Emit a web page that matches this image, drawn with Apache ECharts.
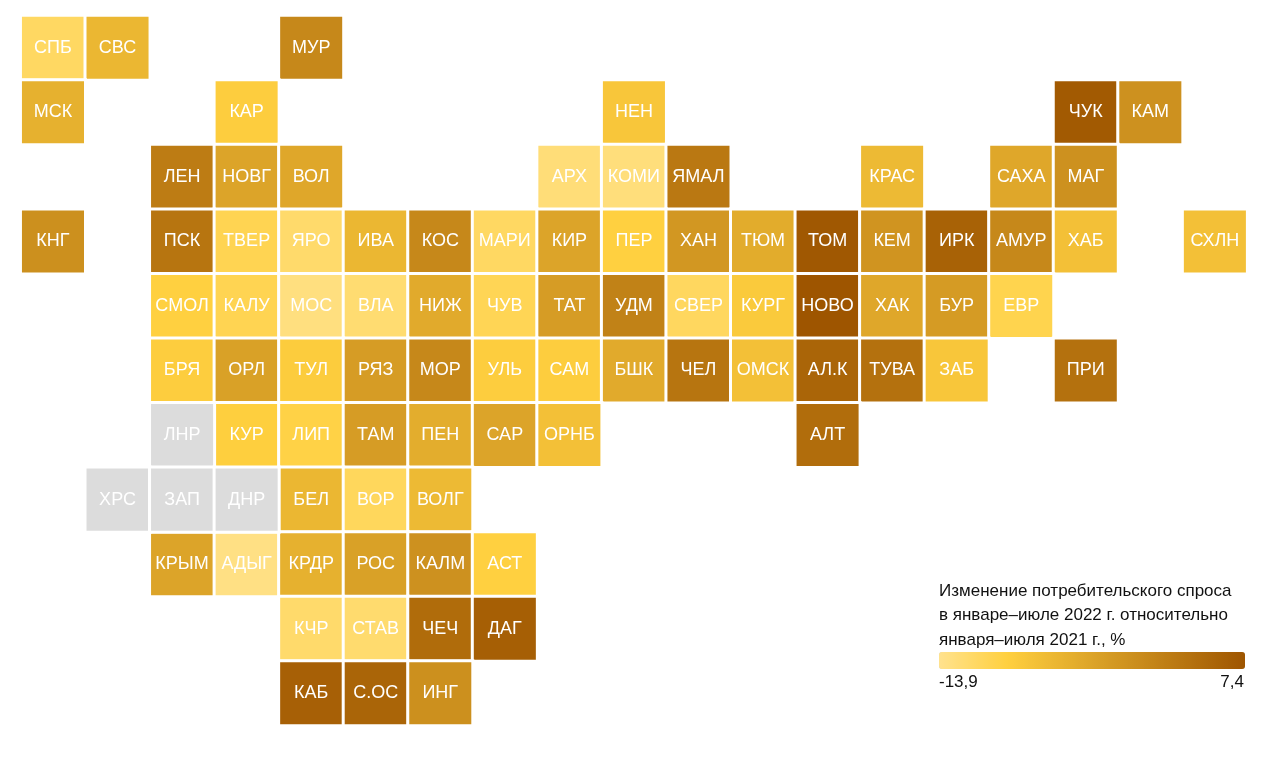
<!DOCTYPE html>
<html>
<head>
<meta charset="utf-8">
<style>html,body{margin:0;padding:0;background:#fff}#c{width:1280px;height:757px}</style>
<script src="https://cdn.jsdelivr.net/npm/echarts@6/dist/echarts.min.js"></script>
</head>
<body>
<div id="c"></div>
<script>
const regions = ["СПБ","СВС","МУР",
 "МСК","КАР","НЕН","ЧУК","КАМ",
 "ЛЕН","НОВГ","ВОЛ","АРХ","КОМИ","ЯМАЛ","КРАС","САХА","МАГ",
 "КНГ","ПСК","ТВЕР","ЯРО","ИВА","КОС","МАРИ","КИР","ПЕР","ХАН","ТЮМ","ТОМ","КЕМ","ИРК","АМУР","ХАБ","СХЛН",
 "СМОЛ","КАЛУ","МОС","ВЛА","НИЖ","ЧУВ","ТАТ","УДМ","СВЕР","КУРГ","НОВО","ХАК","БУР","ЕВР",
 "БРЯ","ОРЛ","ТУЛ","РЯЗ","МОР","УЛЬ","САМ","БШК","ЧЕЛ","ОМСК","АЛ.К","ТУВА","ЗАБ","ПРИ",
 "ЛНР","КУР","ЛИП","ТАМ","ПЕН","САР","ОРНБ","АЛТ",
 "ХРС","ЗАП","ДНР","БЕЛ","ВОР","ВОЛГ",
 "КРЫМ","АДЫГ","КРДР","РОС","КАЛМ","АСТ",
 "КЧР","СТАВ","ЧЕЧ","ДАГ",
 "КАБ","С.ОС","ИНГ"];
const cols = [0,1,4,
 0,3,9,16,17,
 2,3,4,8,9,10,13,15,16,
 0,2,3,4,5,6,7,8,9,10,11,12,13,14,15,16,18,
 2,3,4,5,6,7,8,9,10,11,12,13,14,15,
 2,3,4,5,6,7,8,9,10,11,12,13,14,16,
 2,3,4,5,6,7,8,12,
 1,2,3,4,5,6,
 2,3,4,5,6,7,
 4,5,6,7,
 4,5,6];
const rows = [0,0,0,
 1,1,1,1,1,
 2,2,2,2,2,2,2,2,2,
 3,3,3,3,3,3,3,3,3,3,3,3,3,3,3,3,3,
 4,4,4,4,4,4,4,4,4,4,4,4,4,4,
 5,5,5,5,5,5,5,5,5,5,5,5,5,5,
 6,6,6,6,6,6,6,6,
 7,7,7,7,7,7,
 8,8,8,8,8,8,
 9,9,9,9,
 10,10,10];
const values = [-11.3,-5.8,0.6,
 -5.0,-8.8,-7.9,6.8,-0.7,
 2.1,-3.3,-3.7,-12.6,-12.8,2.7,-6.2,-3.7,-0.7,
 -0.5,3.1,-10.3,-11.8,-5.8,0.6,-11.3,-3.3,-9.2,-1.5,-4.3,7.0,-1.1,5.7,0.6,-7.1,-7.1,
 -9.2,-10.3,-13.0,-12.2,-4.1,-10.5,-2.2,1.4,-11.1,-8.4,7.4,-3.7,-2.0,-10.1,
 -8.8,-2.8,-8.6,-2.2,0.6,-8.8,-8.8,-4.1,3.1,-7.1,5.3,3.6,-7.9,3.6,
 null,-9.0,-9.6,-2.2,-4.5,-3.3,-7.1,4.2,
 null,null,null,-5.8,-10.9,-6.2,
 -3.3,-13.3,-5.0,-2.8,-0.7,-9.2,
 -11.8,-12.0,4.4,6.1,
 5.9,5.3,-0.5];
const colIndex = ["0","1","2","3","4","5","6","7","8","9","10","11","12","13","14","15","16","17","18"];
const rowIndex = ["0","1","2","3","4","5","6","7","8","9","10"];
const legendMin = -13.9, legendMax = 7.4;
const legendLabels = ["-13,9","7,4"];
const legendTitle = "Изменение потребительского спроса\nв январе–июле 2022 г. относительно\nянваря–июля 2021 г., %";
const rampColors = ["#FFE28E","#FFD966","#FFD03F","#F1BE36","#E3AD2D","#D59B24","#C88A1B","#BA7812","#AC6709","#9E5500"];

const FONT = '"Liberation Sans", Arial, sans-serif';
const withData = [], noData = [];
regions.forEach((name, i) => {
  const item = { name, value: [cols[i], rows[i], values[i] === null ? 0 : values[i]] };
  (values[i] === null ? noData : withData).push(item);
});
const cellLabel = { show: true, color: '#fff', fontFamily: FONT, fontSize: 18, formatter: p => p.name };
const chart = echarts.init(document.getElementById('c'), null, { renderer: 'canvas' });
chart.setOption({
  animation: false,
  backgroundColor: '#fff',
  tooltip: { show: false },
  title: {
    text: legendTitle, left: 939, top: 579, padding: 0,
    textStyle: { fontFamily: FONT, fontSize: 17, fontWeight: 'normal', color: '#111', lineHeight: 24.5 }
  },
  grid: { left: 20.7, top: 15.5, width: 1226.45, height: 710.05, containLabel: false },
  xAxis: { type: 'category', data: colIndex, show: false },
  yAxis: { type: 'category', data: rowIndex, inverse: true, show: false },
  visualMap: {
    type: 'continuous', seriesIndex: 0, dimension: 2, min: legendMin, max: legendMax,
    orient: 'horizontal', left: 939, top: 652, padding: 0, itemWidth: 17, itemHeight: 306,
    calculable: false, hoverLink: false, text: null, showLabel: false, borderRadius: 0,
    inRange: { color: rampColors }
  },
  graphic: [
    { type: 'text', left: 939, top: 674, style: { text: legendLabels[0], font: '17px ' + FONT, fill: '#111' } },
    { type: 'text', right: 36, top: 674, style: { text: legendLabels[1], font: '17px ' + FONT, fill: '#111' } }
  ],
  series: [
    { type: 'heatmap', data: withData, label: cellLabel, itemStyle: { borderColor: '#fff', borderWidth: 3 }, emphasis: { disabled: true } },
    { type: 'heatmap', data: noData, label: cellLabel, itemStyle: { color: '#DCDCDC', borderColor: '#fff', borderWidth: 3 }, emphasis: { disabled: true } }
  ]
});
</script>
</body>
</html>
